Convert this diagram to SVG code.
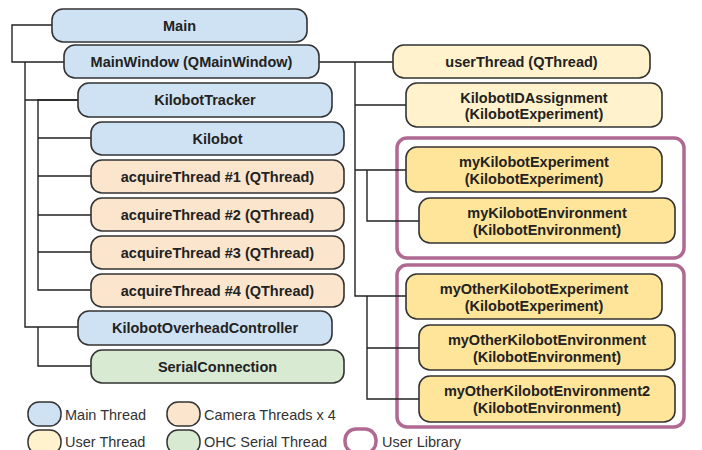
<svg xmlns="http://www.w3.org/2000/svg" width="702" height="450" viewBox="0 0 702 450">
  <style>
    .node rect { stroke: #333; stroke-width: 1.6; }
    .main rect { fill: #cfe2f3; }
    .cam rect { fill: #fce5cd; }
    .ohc rect { fill: #d9ead3; }
    .user rect { fill: #fff2cc; }
    .lib rect { fill: #ffe599; }
    .node text { font-family: "Liberation Sans", Arial, sans-serif; font-weight: bold; font-size: 14.5px; fill: #222; text-anchor: middle; }
    .libbox { fill: none; stroke: #b06a92; stroke-width: 3.5; }
    #connectors path { fill: none; stroke: #222; stroke-width: 1.4; }
    .legend text { font-family: "Liberation Sans", Arial, sans-serif; font-size: 14.5px; fill: #333; }
    .legend rect { stroke: #333; stroke-width: 1.5; }
  </style>

  <!-- user library frames -->
  <rect class="libbox" x="397" y="138" width="287" height="120" rx="10"/>
  <rect class="libbox" x="397" y="265" width="287" height="162" rx="10"/>

  <g id="connectors">
    <!-- Main -> MainWindow -->
    <path d="M52 25 H12 V62 H64"/>
    <!-- MainWindow -> KilobotTracker, KilobotOverheadController -->
    <path d="M25 62 V327 H78 M25 100 H78"/>
    <!-- KilobotTracker -> Kilobot, acquire threads -->
    <path d="M78 100 H38 V290 H91 M38 138 H91 M38 176 H91 M38 215 H91 M38 252 H91"/>
    <!-- KilobotOverheadController -> SerialConnection -->
    <path d="M38 327 V366 H91"/>
    <!-- MainWindow -> user thread side -->
    <path d="M319 62 H393 M355 62 V296 H406 M355 105 H406 M355 170 H406"/>
    <!-- experiment -> environment -->
    <path d="M367 170 V221 H419"/>
    <path d="M367 296 V399 H419 M367 348 H419"/>
  </g>

  <!-- left column -->
  <g id="main" class="node main">
    <rect x="52" y="9" width="255" height="33" rx="11"/>
    <text x="179.5" y="31">Main</text>
  </g>
  <g id="mainwindow" class="node main">
    <rect x="64" y="45" width="255" height="33" rx="11"/>
    <text x="191.5" y="67">MainWindow (QMainWindow)</text>
  </g>
  <g id="kilobottracker" class="node main">
    <rect x="78" y="83" width="254" height="34" rx="11"/>
    <text x="205" y="105">KilobotTracker</text>
  </g>
  <g id="kilobot" class="node main">
    <rect x="91" y="122" width="253" height="33" rx="11"/>
    <text x="217.5" y="144">Kilobot</text>
  </g>
  <g id="acquire1" class="node cam">
    <rect x="91" y="160" width="253" height="33" rx="11"/>
    <text x="217.5" y="182">acquireThread #1 (QThread)</text>
  </g>
  <g id="acquire2" class="node cam">
    <rect x="91" y="198" width="253" height="33" rx="11"/>
    <text x="217.5" y="220">acquireThread #2 (QThread)</text>
  </g>
  <g id="acquire3" class="node cam">
    <rect x="91" y="236" width="253" height="33" rx="11"/>
    <text x="217.5" y="258">acquireThread #3 (QThread)</text>
  </g>
  <g id="acquire4" class="node cam">
    <rect x="91" y="274" width="253" height="33" rx="11"/>
    <text x="217.5" y="296">acquireThread #4 (QThread)</text>
  </g>
  <g id="overheadcontroller" class="node main">
    <rect x="78" y="311" width="254" height="34" rx="11"/>
    <text x="205" y="333">KilobotOverheadController</text>
  </g>
  <g id="serialconnection" class="node ohc">
    <rect x="91" y="350" width="253" height="33" rx="11"/>
    <text x="217.5" y="372">SerialConnection</text>
  </g>

  <!-- right column -->
  <g id="userthread" class="node user">
    <rect x="393" y="45" width="257" height="33" rx="11"/>
    <text x="521.5" y="67">userThread (QThread)</text>
  </g>
  <g id="idassignment" class="node user">
    <rect x="406" y="83" width="256" height="44" rx="11"/>
    <text x="534" y="103">KilobotIDAssignment</text>
    <text x="534" y="119">(KilobotExperiment)</text>
  </g>
  <g id="myexperiment" class="node lib">
    <rect x="406" y="147" width="256" height="45" rx="11"/>
    <text x="534" y="167">myKilobotExperiment</text>
    <text x="534" y="184">(KilobotExperiment)</text>
  </g>
  <g id="myenvironment" class="node lib">
    <rect x="419" y="198" width="256" height="45" rx="11"/>
    <text x="547" y="218">myKilobotEnvironment</text>
    <text x="547" y="235">(KilobotEnvironment)</text>
  </g>
  <g id="otherexperiment" class="node lib">
    <rect x="406" y="274" width="256" height="45" rx="11"/>
    <text x="534" y="294">myOtherKilobotExperiment</text>
    <text x="534" y="311">(KilobotExperiment)</text>
  </g>
  <g id="otherenvironment" class="node lib">
    <rect x="419" y="325" width="256" height="45" rx="11"/>
    <text x="547" y="345">myOtherKilobotEnvironment</text>
    <text x="547" y="362">(KilobotEnvironment)</text>
  </g>
  <g id="otherenvironment2" class="node lib">
    <rect x="419" y="376" width="256" height="46" rx="11"/>
    <text x="547" y="396">myOtherKilobotEnvironment2</text>
    <text x="547" y="413">(KilobotEnvironment)</text>
  </g>

  <!-- legend -->
  <g id="legend" class="legend">
    <rect x="28" y="402" width="33" height="24" rx="11" fill="#cfe2f3"/>
    <text x="65" y="420">Main Thread</text>
    <rect x="167" y="402" width="33" height="24" rx="11" fill="#fce5cd"/>
    <text x="204" y="420">Camera Threads x 4</text>
    <rect x="28" y="430" width="33" height="24" rx="11" fill="#fff2cc"/>
    <text x="65" y="447">User Thread</text>
    <rect x="167" y="430" width="33" height="24" rx="11" fill="#d9ead3"/>
    <text x="204" y="447">OHC Serial Thread</text>
    <rect x="345" y="429" width="31" height="24" rx="11" fill="#fff" stroke="#b06a92" stroke-width="3.5" style="stroke:#b06a92;stroke-width:3.5"/>
    <text x="382" y="447">User Library</text>
  </g>
</svg>
